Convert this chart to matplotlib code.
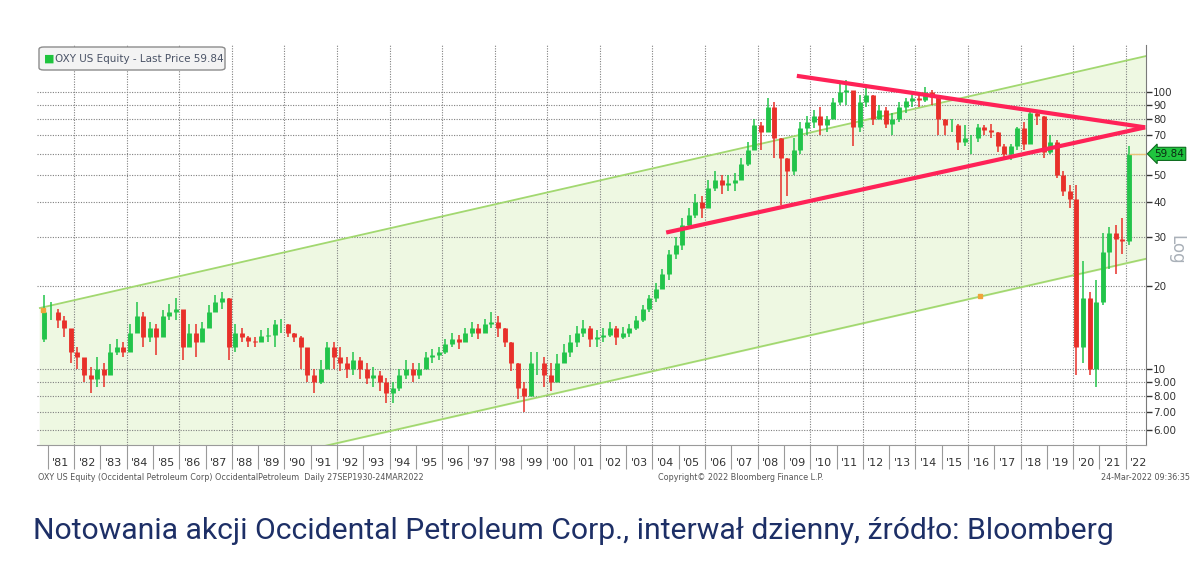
import matplotlib.pyplot as plt
import numpy as np
import pandas as pd
from matplotlib.patches import FancyBboxPatch

quarters = pd.period_range('1980Q4', '2022Q1', freq='Q')
first_open = 12.8
q_close = [16,
    16, 15, 14, 11.5,  11, 9.5, 9.2, 10,  9.5, 11.5, 12, 11.5,  13.5, 15.5, 13, 14,
    13, 15.5, 16, 16.5,  12, 13.5, 12.5, 14,  16, 17.5, 18, 12,  13.5, 13, 12.6, 12.5,
    13.2, 13.3, 14.5, 14.5,  13.5, 13, 12, 9.5,  9, 10, 12, 11,  10.5, 10, 10.8, 10,
    9.3, 9.5, 9, 8.2,  8.5, 9.5, 10, 9.5,  10, 11, 11.2, 11.5,  12.3, 12.8, 12.5, 13.5,
    14, 13.5, 14.5, 14.8,  14, 12.5, 10.5, 8.5,  8, 10.5, 10.5, 9.5,  9, 10.5, 11.5, 12.5,
    13.5, 14, 12.8, 13,  13.3, 14, 13, 13.5,  14, 15, 16.5, 18,  19.5, 22, 26, 28,
    33, 36, 40, 38,  45, 48, 46, 47,  48, 55, 62, 76,  72, 88, 68, 58,
    52, 62, 74, 78,  82, 76, 80, 92,  100, 102, 75, 92,  98, 80, 86, 77,
    80, 88, 93, 95,  94, 100, 96, 80,  76, 76, 66, 68,  68, 75, 73, 72,
    64, 60, 64, 74,  65, 84, 82, 61,  66, 50, 44, 41,  12, 18, 10, 17.5,
    26.5, 31, 29.5, 29,  59.84]
q_high = [18.5,
    17.5, 16.5, 15.5, 13.5,  12, 10.5, 10.2, 11,  10.5, 12.3, 12.8, 12.5,  14.5, 17.5, 16, 14.8,
    14.5, 16.3, 17.2, 18,  16, 14.5, 14.5, 14.8,  17, 18.5, 19, 18,  14.5, 14, 13.2, 13,
    13.8, 14, 15, 15.2,  14.5, 13.5, 13.2, 11.5,  10, 10.8, 12.5, 12.5,  12, 11, 11.5, 11,
    10.5, 10.2, 9.8, 9.3,  9, 10, 10.8, 10.5,  10.5, 11.5, 11.8, 12,  12.8, 13.5, 13.3, 14,
    14.8, 14.5, 15.2, 16,  15.5, 14, 12.5, 10.5,  9, 11.5, 11.5, 11,  10.5, 11.3, 12.3, 13.3,
    14.3, 15, 14.3, 13.8,  14, 14.8, 14.3, 14.2,  14.5, 15.5, 17, 18.5,  20.5, 23, 27, 30,
    35, 38, 43, 42,  48, 52, 50, 50,  51, 58, 66, 80,  78, 95, 92, 68,
    58, 68, 78, 82,  86, 88, 82, 95,  108, 111, 100, 98,  106, 98, 90, 88,
    84, 92, 95, 98,  98, 104, 102, 96,  80, 80, 77, 76,  70, 77, 76, 77,
    72, 65, 65, 75,  78, 87, 86, 82,  70, 67, 52, 46,  46, 24.5, 19, 21,
    31, 32.5, 33, 35,  64]
q_low = [12.5,
    15, 14, 13, 10.5,  10, 9, 8.2, 8.6,  8.6, 9.5, 11.2, 11,  11.5, 13.5, 12, 12.5,
    11.2, 13, 15, 15,  10.8, 12, 11, 13,  14, 16, 16.5, 10.8,  11.5, 12.5, 12, 12,
    12.5, 12.5, 12, 13.5,  13, 12.5, 10, 9,  8.2, 8.8, 10, 10,  9.8, 9.3, 9.5, 9.2,
    8.8, 8.6, 8.3, 7.5,  7.5, 8.3, 9.2, 9,  9.2, 10, 10.5, 10.8,  11.3, 12, 11.8, 12.5,
    13, 12.8, 13.5, 14,  13, 12, 9.8, 7.8,  7, 8, 9.5, 8.6,  8.3, 9, 10.5, 11,
    12, 13, 12, 12,  12.5, 13, 12.2, 12.8,  13, 13.8, 14.8, 16,  17.5, 19.5, 21, 25,
    27, 32, 35, 35,  38, 44, 43, 44,  44, 48, 54, 62,  62, 72, 58, 39,
    42, 50, 60, 70,  74, 70, 72, 80,  90, 90, 64, 72,  88, 76, 80, 74,
    70, 78, 84, 88,  88, 92, 90, 70,  70, 72, 62, 64,  60, 66, 70, 68,
    61, 57, 57, 62,  62, 66, 76, 58,  60, 49, 42, 38,  9.5, 10.5, 9.5, 8.6,
    17, 23, 22, 26,  28]

# kanal trendu i trojkat
channel_years = [1980.7, 2022.77]
channel_upper = [16.6, 135.0]
channel_lower = [3.07, 25.0]
tri_top_years = [2009.49, 2022.74]
tri_top = [114.5, 74.6]
tri_bot_years = [2004.52, 2022.74]
tri_bot = [31.1, 74.6]
last_price = 59.84

ytick_vals = [100, 90, 80, 70, 50, 40, 30, 20, 10, 9, 8, 7, 6]
ytick_labels = ['100', '90', '80', '70', '50', '40', '30', '20', '10',
                '9.00', '8.00', '7.00', '6.00']
years = list(range(1981, 2023))

fig = plt.figure(figsize=(12, 5.67), dpi=100)
ax = fig.add_axes([37/1200, 1-445/567, 1109/1200, 400/567])
ax.set_yscale('log')
ax.set_ylim(5.31, 148)
ax.set_xlim(1980.59, 2022.77)

# tlo kanalu
ax.fill_between(channel_years, channel_lower, channel_upper, color='#eef8e2', zorder=0)
ax.plot(channel_years, channel_upper, color='#a2d870', lw=1.3, zorder=2)
ax.plot(channel_years, channel_lower, color='#a2d870', lw=1.3, zorder=2)

# siatka
for yv in ytick_vals + [60]:
    ax.axhline(yv, color='#808080', ls=(0, (1, 1.3)), lw=0.8, zorder=1)
for yr in range(1982, 2023, 2):
    ax.axvline(yr, color='#808080', ls=(0, (1, 1.3)), lw=0.8, zorder=1)

# swiece kwartalne
x = np.array([q.year + (q.quarter - 1) / 4 + 0.125 for q in quarters])
c = np.array(q_close)
o = np.concatenate([[first_open], c[:-1]])
h = np.array(q_high)
l = np.array(q_low)
col = np.where(c >= o, '#22c44a', '#e8302a')
ax.vlines(x, l, h, colors=col, lw=1.1, zorder=3)
ax.vlines(x, o, c, colors=col, lw=3.5, zorder=3)

# linie trojkata
ax.plot(tri_top_years, tri_top, color='#ff2257', lw=3, solid_capstyle='butt', zorder=4)
ax.plot(tri_bot_years, tri_bot, color='#ff2257', lw=3, solid_capstyle='butt', zorder=4)

# uchwyty adnotacji
ax.plot([1980.82, 2016.46], [16.3, 18.3], 's', ms=3, color='#f0a43a', zorder=5)

# ostatnia cena
ax.hlines(last_price, x[-1], 2022.77, color='#e9c27a', lw=1, zorder=3)
ax.annotate(f'{last_price:.2f}', xy=(1.0, last_price), xycoords=('axes fraction', 'data'),
            xytext=(6, 0), textcoords='offset points', ha='left', va='center',
            fontsize=7.5, color='#0b2a12',
            bbox=dict(boxstyle='larrow,pad=0.15', fc='#1fc43e', ec='#0c6b1d', lw=0.8),
            annotation_clip=False)

# osie
ax.yaxis.tick_right()
ax.set_yticks(ytick_vals)
ax.set_yticklabels(ytick_labels)
ax.yaxis.set_minor_locator(plt.NullLocator())
ax.tick_params(axis='y', which='major', direction='out', length=4, width=1,
               color='#333333', labelsize=7.5, labelcolor='#333333', pad=1)

ax.set_xticks(years)
ax.set_xticklabels([])
ax.set_xticks([y + 0.5 for y in years], minor=True)
ax.set_xticklabels(["'%02d" % (y % 100) for y in years], minor=True)
ax.tick_params(axis='x', which='major', direction='out', length=17, width=0.8,
               color='#9a9a9a')
ax.tick_params(axis='x', which='minor', length=0, labelsize=8,
               labelcolor='#333333', pad=9)

for s in ['left', 'top']:
    ax.spines[s].set_visible(False)
ax.spines['right'].set_color('#7a7a7a')
ax.spines['bottom'].set_color('#9a9a9a')

# legenda
fig.add_artist(FancyBboxPatch((39/1200, 1-70/567), 186/1200, 23/567,
                              boxstyle='round,pad=0,rounding_size=0.004',
                              transform=fig.transFigure, fc='#f3f3f3', ec='#8c8c8c', lw=1))
fig.text(44/1200, 1-58.5/567, '■', color='#1fc43e', fontsize=8, va='center')
fig.text(55/1200, 1-58.5/567, 'OXY US Equity - Last Price 59.84', color='#4a5366',
         fontsize=7.5, va='center')

fig.text(1176/1200, 1-250/567, 'Log', rotation=-90, fontsize=12, color='#aab1b9',
         ha='center', va='center')

# stopka
fig.text(38/1200, 1-477/567,
         'OXY US Equity (Occidental Petroleum Corp) OccidentalPetroleum  Daily 27SEP1930-24MAR2022',
         fontsize=5.8, color='#555555', va='center')
fig.text(741/1200, 1-477/567, 'Copyright\u00a9 2022 Bloomberg Finance L.P.',
         fontsize=5.8, color='#555555', va='center', ha='center')
fig.text(1190/1200, 1-477/567, '24-Mar-2022 09:36:35',
         fontsize=5.8, color='#555555', va='center', ha='right')

fig.text(33/1200, 1-531/567,
         'Notowania akcji Occidental Petroleum Corp., interwał dzienny, źródło: Bloomberg',
         fontsize=21.7, family='Roboto', color='#1d2f66', va='center')

fig.savefig('out.png', dpi=100)
